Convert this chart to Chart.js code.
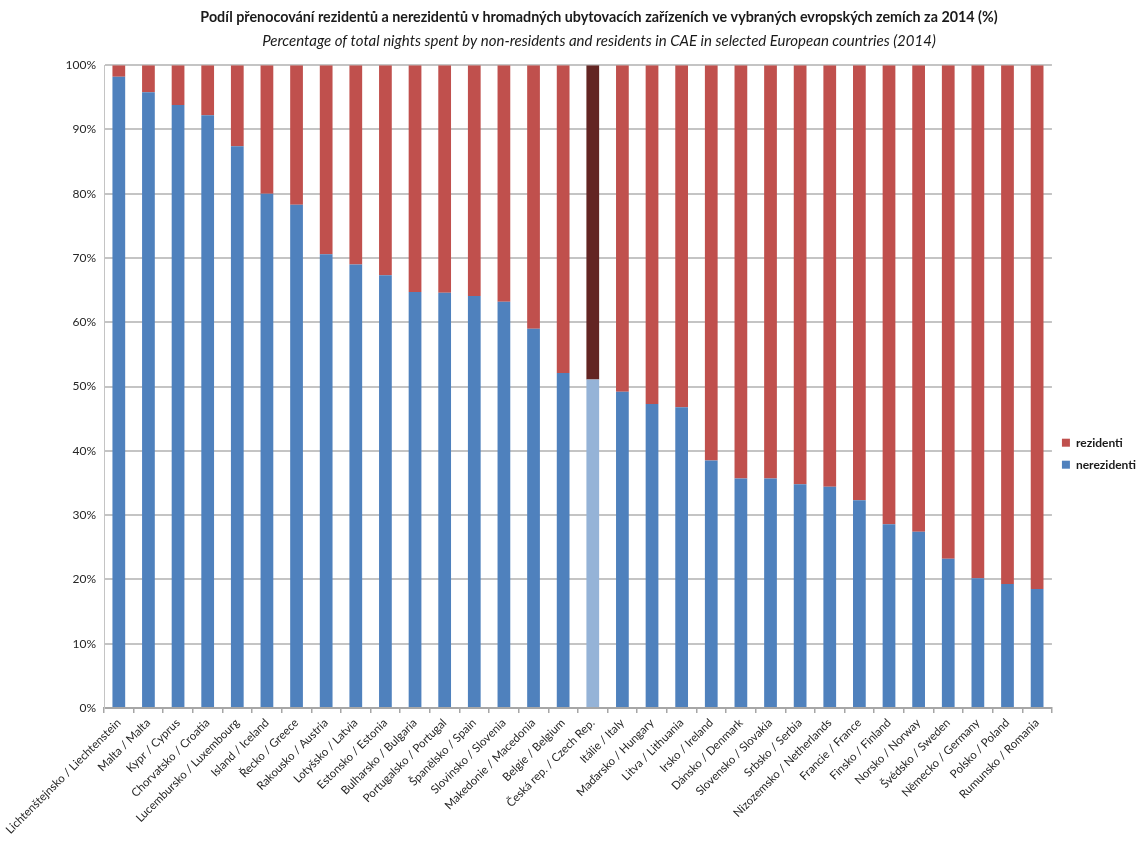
<!DOCTYPE html>
<html>
<head>
<meta charset="utf-8">
<script src="https://cdn.jsdelivr.net/npm/chart.js@4"></script>
<style>
  html, body { margin: 0; padding: 0; background: #fff; }
  #wrap { width: 1138px; height: 843px; }
</style>
</head>
<body>
<div id="wrap"><canvas id="myChart" width="1138" height="843"></canvas></div>
<script>
// countries, sorted by share of non-residents
var countries = [
  'Lichtenštejnsko / Liechtenstein', 'Malta / Malta', 'Kypr / Cyprus', 'Chorvatsko / Croatia',
  'Lucembursko / Luxembourg', 'Island / Iceland', 'Řecko / Greece', 'Rakousko / Austria',
  'Lotyšsko / Latvia', 'Estonsko / Estonia', 'Bulharsko / Bulgaria', 'Portugalsko / Portugal',
  'Španělsko / Spain', 'Slovinsko / Slovenia', 'Makedonie / Macedonia', 'Belgie / Belgium',
  'Česká rep. / Czech Rep.', 'Itálie / Italy', 'Maďarsko / Hungary', 'Litva / Lithuania',
  'Irsko / Ireland', 'Dánsko / Denmark', 'Slovensko / Slovakia', 'Srbsko / Serbia',
  'Nizozemsko / Netherlands', 'Francie / France', 'Finsko / Finland', 'Norsko / Norway',
  'Švédsko / Sweden', 'Německo / Germany', 'Polsko / Poland', 'Rumunsko / Romania'
];

var nerezidenti = [98.2, 95.8, 93.8, 92.2, 87.4, 80.0, 78.3, 70.6, 69.0, 67.3, 64.7, 64.6,
  64.1, 63.2, 59.0, 52.1, 51.1, 49.2, 47.3, 46.8, 38.5, 35.7, 35.7, 34.8,
  34.4, 32.3, 28.6, 27.4, 23.2, 20.2, 19.3, 18.5];

var rezidenti = [1.8, 4.2, 6.2, 7.8, 12.6, 20.0, 21.7, 29.4, 31.0, 32.7, 35.3, 35.4,
  35.9, 36.8, 41.0, 47.9, 48.9, 50.8, 52.7, 53.2, 61.5, 64.3, 64.3, 65.2,
  65.6, 67.7, 71.4, 72.6, 76.8, 79.8, 80.7, 81.5];

var yTicks = ['0%', '10%', '20%', '30%', '40%', '50%', '60%', '70%', '80%', '90%', '100%'];

var highlight = 'Česká rep. / Czech Rep.';

var blue = countries.map(c => c === highlight ? '#95B3D7' : '#4F81BD');
var red = countries.map(c => c === highlight ? '#632523' : '#C0504D');

var font = 'Lato, "Open Sans", sans-serif';

var ctx = document.getElementById('myChart').getContext('2d');

var myChart = new Chart(ctx, {
  type: 'bar',
  data: {
    labels: countries,
    datasets: [{
      label: 'nerezidenti',
      data: nerezidenti,
      backgroundColor: blue,
      barPercentage: 0.43,
      categoryPercentage: 1
    }, {
      label: 'rezidenti',
      data: rezidenti,
      backgroundColor: red,
      barPercentage: 0.43,
      categoryPercentage: 1
    }]
  },
  options: {
    responsive: false,
    animation: false,
    layout: {
      padding: { left: 52, right: -8, top: 0, bottom: 0 }
    },
    plugins: {
      title: {
        display: true,
        text: 'Podíl přenocování rezidentů a nerezidentů v hromadných ubytovacích zařízeních ve vybraných evropských zemích za 2014 (%)',
        color: '#1a1a1a',
        font: { family: font, size: 14.3, weight: 'bold' },
        padding: { top: 9, bottom: 6 }
      },
      subtitle: {
        display: true,
        text: 'Percentage of total nights spent by non-residents and residents in CAE in selected European countries (2014)',
        color: '#1a1a1a',
        font: { family: font, size: 15, style: 'italic' },
        padding: { top: 0, bottom: 15 }
      },
      legend: {
        display: true,
        position: 'right',
        reverse: true,
        title: {
          display: true,
          text: ' ',
          font: { size: 12 },
          padding: { top: 0, bottom: 50 }
        },
        labels: {
          boxWidth: 8,
          boxHeight: 8,
          padding: 10,
          color: '#1a1a1a',
          font: { family: font, size: 12, weight: 'bold' }
        }
      },
      tooltip: { enabled: false }
    },
    scales: {
      x: {
        stacked: true,
        grid: {
          display: true,
          drawOnChartArea: false,
          drawTicks: true,
          tickLength: 5,
          color: '#A6A6A6',
          lineWidth: 1.5
        },
        border: { display: true, color: '#A6A6A6', width: 2 },
        ticks: {
          autoSkip: false,
          minRotation: 45,
          maxRotation: 45,
          color: '#262626',
          font: { family: font, size: 11.5 }
        },
        afterFit: function (s) {
          s.height = 135;
          s.paddingLeft = 0;
          s.paddingRight = 0;
        }
      },
      y: {
        stacked: true,
        min: 0,
        max: 100,
        grid: {
          color: '#C4C4C4',
          lineWidth: 2,
          drawTicks: false
        },
        border: { display: true, color: '#C4C4C4', width: 1 },
        ticks: {
          stepSize: 10,
          padding: 8,
          color: '#262626',
          font: { family: font, size: 12 },
          callback: function (v) { return yTicks[Math.round(v / 10)]; }
        },
        afterFit: function (s) {
          s.width = 52;
        }
      }
    }
  }
});
</script>
</body>
</html>
